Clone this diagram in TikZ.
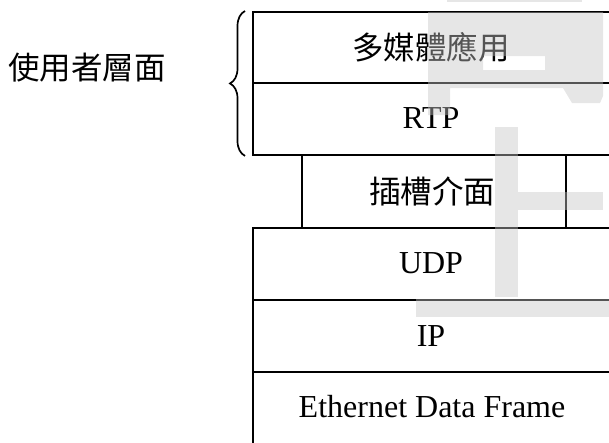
\documentclass[tikz,border=0pt]{standalone}
\usepackage{fontspec}
\setmainfont{Liberation Serif}
\newfontfamily\cjk{Noto Sans CJK TC}
\usetikzlibrary{decorations.pathreplacing}
\definecolor{wmgray}{gray}{0.77}
\begin{document}
\begin{tikzpicture}[x=1pt,y=1pt,
  layer/.style={draw=black, line width=1.9pt, rectangle, inner sep=0pt, anchor=north west},
  txt/.style={inner sep=0pt, font=\fontsize{32}{38}\selectfont},
  ctxt/.style={inner sep=0pt, font=\cjk\fontsize{31.5}{38}\selectfont},
  bracestyle/.style={draw=black, line width=1.7pt, decorate, decoration={brace, amplitude=15pt}},
  wm/.style={fill=wmgray, opacity=0.43, draw=none}]
\useasboundingbox (0,0) rectangle (609,-442);
\begin{scope}
\clip (0,0) rectangle (609,-442);
% stack of layers
\node[layer, minimum width=370pt, minimum height=71pt] (app) at (252,-11) {};
\node[ctxt] (apptext) at (431,-47) {多媒體應用};
\node[layer, minimum width=370pt, minimum height=72pt] (rtp) at (252,-82) {};
\node[txt] (rtptext) at (431,-118) {RTP};
\node[layer, minimum width=264pt, minimum height=73pt] (sock) at (301,-154) {};
\node[ctxt] (socktext) at (432,-191) {插槽介面};
\node[layer, minimum width=60pt, minimum height=73pt] (sockr) at (565,-154) {};
\node[layer, minimum width=370pt, minimum height=72pt] (udp) at (252,-227) {};
\node[txt] (udptext) at (431,-263) {UDP};
\node[layer, minimum width=370pt, minimum height=72pt] (ip) at (252,-299) {};
\node[txt] (iptext) at (431,-336) {IP};
\node[layer, minimum width=370pt, minimum height=90pt] (eth) at (252,-371) {};
\node[txt] (ethtext) at (432,-407) {Ethernet Data Frame};
% brace and label
\draw[bracestyle] ([xshift=-7pt]rtp.south west) -- ([xshift=-7pt]app.north west);
\node[ctxt] (user) at (87,-68) {使用者層面};
% watermark
\fill[wm] (447,0) rectangle (582,-2);
\fill[wm] (428,-12) -- (603,-12) -- (603,-96) -- (600,-103) -- (572,-103) -- (563,-88)
  -- (450,-88) -- (450,-115) -- (428,-115) -- cycle
  (465,-30) -- (583,-30) -- (583,-88) -- (563,-88) -- (563,-40) -- (483,-40) -- (483,-70)
  -- (465,-70) -- cycle
  (483,-56) rectangle (545,-70);
\fill[wm] (495,-127) rectangle (518,-297);
\fill[wm] (518,-192) rectangle (603,-210);
\fill[wm] (416,-299) rectangle (609,-317);
\end{scope}
\end{tikzpicture}
\end{document}
